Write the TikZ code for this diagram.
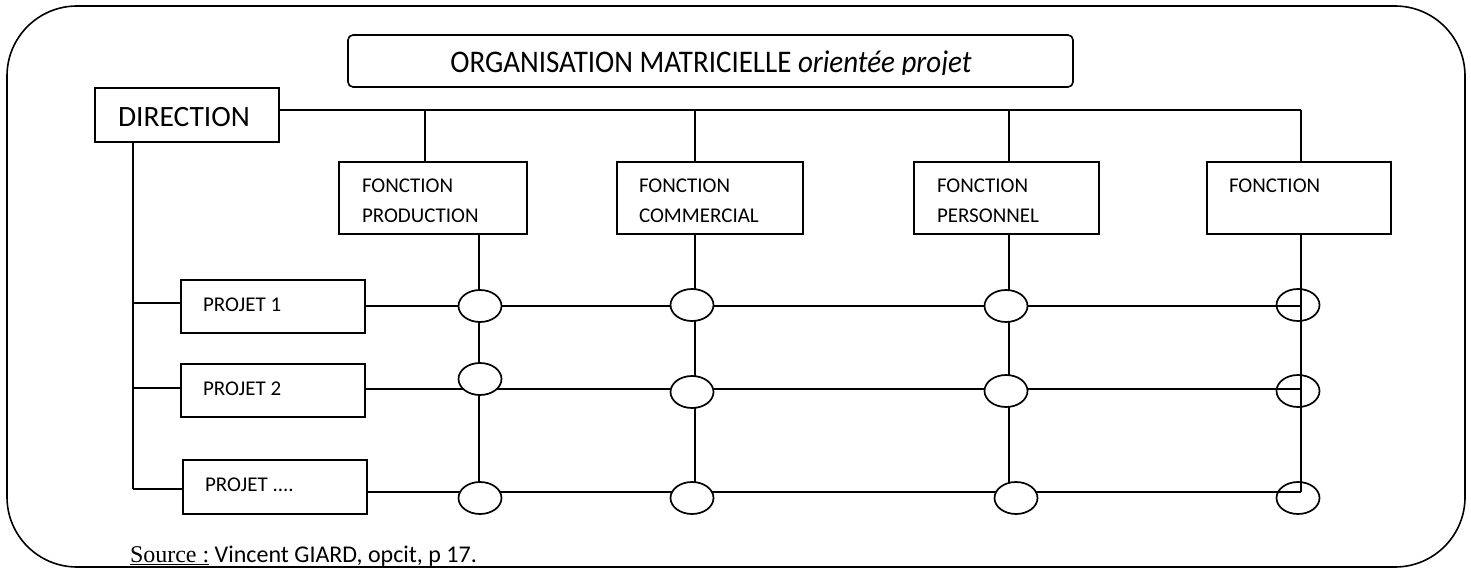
\documentclass[tikz,border=0pt]{standalone}
\usepackage{fontspec}
\setmainfont{Carlito}
\newfontfamily\srcserif{Liberation Serif}
\usetikzlibrary{shapes.geometric}
\newcommand\fntbig{\fontsize{29.5}{30}\selectfont}
\newcommand\fnttitle{\fontsize{31.5}{32}\selectfont}
\newcommand\fntsmall{\fontsize{21}{30}\selectfont}
\newcommand\fntsrc{\fontsize{24}{26}\selectfont}

\begin{document}
\begin{tikzpicture}[x=1pt,y=-1pt,line width=2pt,
  frame/.style={draw,rectangle,inner sep=0pt},
  txt/.style={anchor=base west,inner sep=0pt,font=\fntsmall},
  cross/.style={draw,ellipse,minimum width=43pt,minimum height=32pt,inner sep=0pt,line width=1.7pt},
  crossfill/.style={cross,fill=white}]
\useasboundingbox (0,0) rectangle (1471,569);

% outer frame
\draw[rounded corners=70pt,line width=1.6pt] (7,6) rectangle (1465,567);

% title box, text cut by the box bottom
\node[frame,rounded corners=5pt,line width=1.6pt,minimum width=725pt,minimum height=52pt] (title) at (710.5,61) {};
\begin{scope}
  \clip (350,37) rectangle (1071,75);
  \node[anchor=base,inner sep=0pt] (titletext) at (711,73)
    {\fnttitle\scalebox{0.92}[1]{ORGANISATION MATRICIELLE \textit{orientée projet}}};
\end{scope}

% direction
\node[frame,minimum width=184pt,minimum height=54pt] (dir) at (187,115) {};
\node[anchor=base west,inner sep=0pt,font=\fntbig] (dirtext) at (117,127) {DIRECTION};

% function boxes
\node[frame,minimum width=188pt,minimum height=72pt] (f1) at (433,198) {};
\node[frame,minimum width=186pt,minimum height=72pt] (f2) at (710,198) {};
\node[frame,minimum width=185pt,minimum height=72pt] (f3) at (1006.5,198) {};
\node[frame,minimum width=184pt,minimum height=72pt] (f4) at (1299,198) {};
\node[txt] (f1a) at (361,193) {FONCTION};
\node[txt] (f1b) at (361,223) {PRODUCTION};
\node[txt] (f2a) at (638,193) {FONCTION};
\node[txt] (f2b) at (638,223) {COMMERCIAL};
\node[txt] (f3a) at (936,193) {FONCTION};
\node[txt] (f3b) at (936,223) {PERSONNEL};
\node[txt] (f4a) at (1228,193) {FONCTION};

% project boxes
\node[frame,minimum width=184pt,minimum height=53pt] (p1) at (273,306.5) {};
\node[frame,minimum width=184pt,minimum height=53pt] (p2) at (273,390.5) {};
\node[frame,minimum width=184pt,minimum height=54pt] (p3) at (275,487) {};
\node[txt] (p1t) at (202,311) {PROJET 1};
\node[txt] (p2t) at (202,395) {PROJET 2};
\node[txt] (p3t) at (204,491) {PROJET ....};

% column and row guides
\coordinate (ca) at (425,110);
\coordinate (cb) at (695,110);
\coordinate (cc) at (1009,110);
\coordinate (cd) at (1301,110);
\coordinate (k1) at (479,0);
\coordinate (k2) at (695,0);
\coordinate (k3) at (1009,0);
\coordinate (k4) at (1301,0);
\coordinate (r1) at (0,306);
\coordinate (r2) at (0,389);
\coordinate (r3) at (0,492);

% crossing marker positions
\path (480,306) coordinate (e11) (692,305) coordinate (e21) (1006,306) coordinate (e31) (1298,305) coordinate (e41)
      (480,379) coordinate (e12) (692,392) coordinate (e22) (1006,391) coordinate (e32) (1298,391) coordinate (e42)
      (480,498) coordinate (e13) (692,498) coordinate (e23) (1016,498) coordinate (e33) (1298,498) coordinate (e43);

% direction to functions
\draw (dir.east |- ca) -- (cd);
\draw (ca) -- (f1.north -| ca);
\draw (cb) -- (f2.north -| cb);
\draw (cc) -- (f3.north -| cc);
\draw (cd) -- (f4.north -| cd);

% direction to projects
\draw (dir.south -| 133,0) -- (133,489);
\draw (133,303) -- (p1.west |- 0,303);
\draw (133,388) -- (p2.west |- 0,388);
\draw (133,489) -- (p3.west |- 0,489);

% project rows
\draw (p1.east |- r1) -- (k4 |- r1);
\draw (p2.east |- r2) -- (k4 |- r2);
\draw (p3.east |- r3) -- (k4 |- r3);

% function columns
\draw (f1.south -| k1) -- (k1 |- 0,485);
\draw (f2.south -| k2) -- (k2 |- 0,485);
\draw (f3.south -| k3) -- (k3 |- 0,485);
\draw (f4.south -| k4) -- (k4 |- r3);

% markers
\node[crossfill] (m11) at (e11) {};
\node[crossfill] (m12) at (e12) {};
\node[crossfill] (m13) at (e13) {};
\node[crossfill] (m21) at (e21) {};
\node[crossfill] (m22) at (e22) {};
\node[crossfill] (m23) at (e23) {};
\node[crossfill] (m31) at (e31) {};
\node[crossfill] (m32) at (e32) {};
\node[crossfill] (m33) at (e33) {};
\node[cross] (m41) at (e41) {};
\node[cross] (m42) at (e42) {};
\node[cross] (m43) at (e43) {};

% source line
\node[anchor=base west,inner sep=0pt,font=\fntsrc] (src) at (129,562)
  {{\srcserif\underline{Source :}} Vincent GIARD, opcit, p 17.};
\end{tikzpicture}
\end{document}
